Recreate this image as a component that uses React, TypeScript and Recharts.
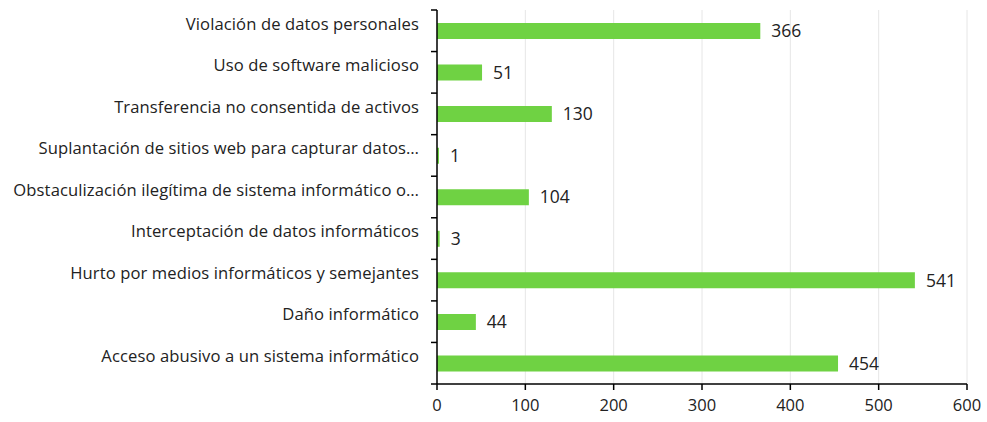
import { BarChart, Bar, XAxis, YAxis, CartesianGrid, LabelList } from "recharts";

const categories = [
  "Violación de datos personales",
  "Uso de software malicioso",
  "Transferencia no consentida de activos",
  "Suplantación de sitios web para capturar datos…",
  "Obstaculización ilegítima de sistema informático o…",
  "Interceptación de datos informáticos",
  "Hurto por medios informáticos y semejantes",
  "Daño informático",
  "Acceso abusivo a un sistema informático",
];
const values = [366, 51, 130, 1, 104, 3, 541, 44, 454];
const xTicks = [0, 100, 200, 300, 400, 500, 600];

const data = categories.map((name, i) => ({ name, value: values[i] }));

const W = 987;
const H = 422;
const TOP = 10;
const BOTTOM = 38;
const band = (H - TOP - BOTTOM) / categories.length;
const FONT = "'Open Sans', Lato, sans-serif";

function CategoryTick(props: any) {
  const { x, y, payload, index } = props;
  const last = index === categories.length - 1;
  return (
    <g>
      <line x1={x - 6} x2={x} y1={y - band / 2} y2={y - band / 2} stroke="#000" strokeWidth={1.5} />
      {last && (
        <line x1={x - 6} x2={x} y1={y + band / 2} y2={y + band / 2} stroke="#000" strokeWidth={1.5} />
      )}
      <text
        x={x - 18}
        y={y - 7}
        dy="0.35em"
        textAnchor="end"
        fontSize={16.6}
        letterSpacing={0.1}
        fill="#222"
        fontFamily={FONT}
      >
        {payload.value}
      </text>
    </g>
  );
}

export default function App() {
  return (
    <div style={{ position: "absolute", left: 0, top: 0, background: "#fff" }}>
      <BarChart
        width={W}
        height={H}
        data={data}
        layout="vertical"
        margin={{ top: TOP, right: 20, bottom: 0, left: 0 }}
      >
        <CartesianGrid horizontal={false} stroke="#e6e6e6" />
        <XAxis
          type="number"
          domain={[0, 600]}
          ticks={xTicks}
          height={BOTTOM}
          axisLine={{ stroke: "#000", strokeWidth: 1.5 }}
          tickLine={{ stroke: "#000", strokeWidth: 1.5 }}
          tickSize={6}
          tickMargin={9}
          tick={{ fontSize: 16.5, fill: "#222", fontFamily: FONT }}
        />
        <YAxis
          type="category"
          dataKey="name"
          width={437}
          axisLine={{ stroke: "#000", strokeWidth: 1.5 }}
          tickLine={false}
          tickSize={0}
          tickMargin={0}
          interval={0}
          tick={<CategoryTick />}
        />
        <Bar dataKey="value" fill="#6fd243" barSize={16} minPointSize={2} isAnimationActive={false}>
          <LabelList
            dataKey="value"
            position="right"
            offset={11}
            fill="#222"
            fontSize={17.5}
            fontFamily={FONT}
          />
        </Bar>
      </BarChart>
    </div>
  );
}
